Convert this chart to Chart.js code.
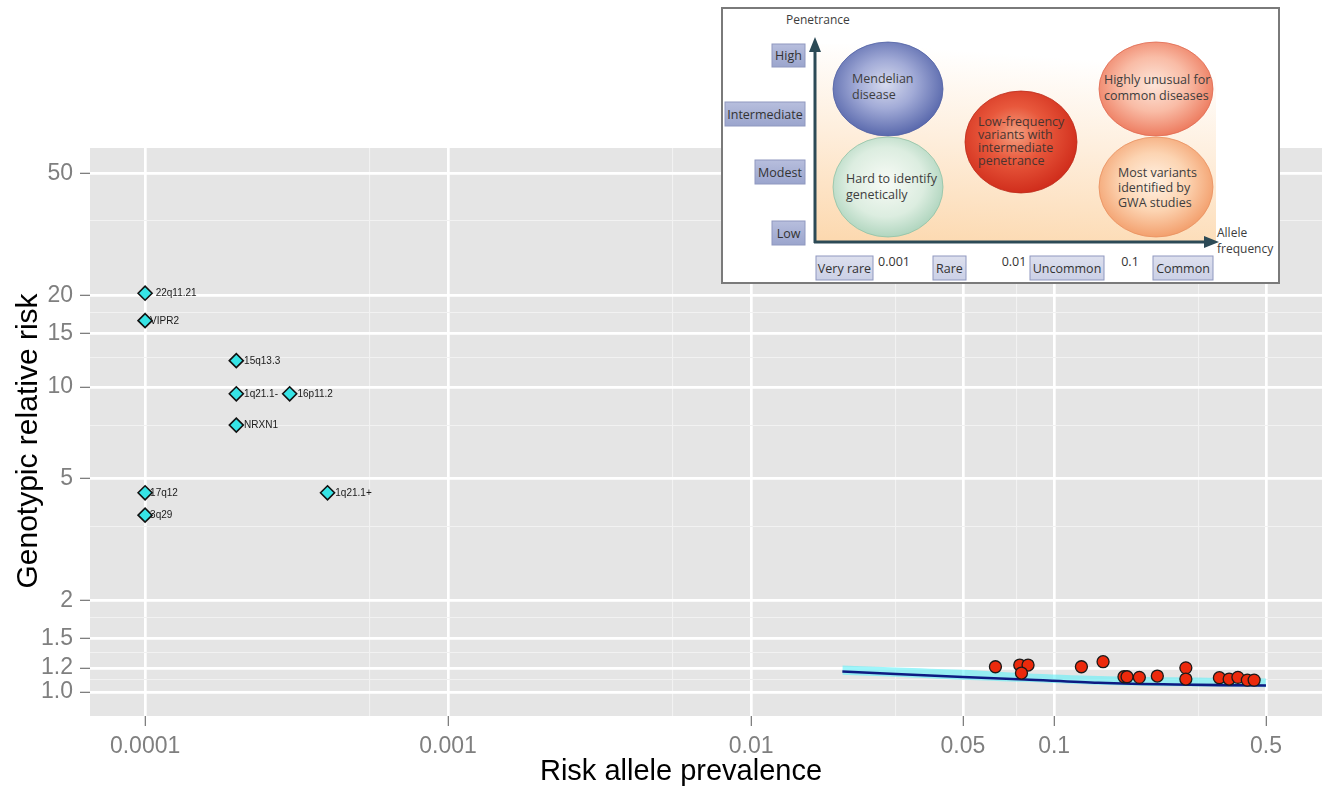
<!DOCTYPE html>
<html><head><meta charset="utf-8">
<script src="https://cdn.jsdelivr.net/npm/chart.js@4.4.1/dist/chart.umd.min.js"></script>
<style>
html,body{margin:0;padding:0;background:#fff;}
#wrap{position:relative;width:1326px;height:786px;overflow:hidden;}
#c{position:absolute;left:0;top:0;}
#inset{position:absolute;left:0;top:0;pointer-events:none;}
#inset text{font-family:"Open Sans","Noto Sans",sans-serif;}
</style></head><body>
<div id="wrap">
<canvas id="c" width="1326" height="786"></canvas>
<svg id="inset" width="1326" height="786" viewBox="0 0 1326 786" xmlns="http://www.w3.org/2000/svg">
<defs>
  <linearGradient id="bgG" x1="0" y1="1" x2="0.15" y2="0">
    <stop offset="0" stop-color="#fcd8ae"/>
    <stop offset="0.55" stop-color="#feeedc"/>
    <stop offset="1" stop-color="#ffffff"/>
  </linearGradient>
  <radialGradient id="gBlue" cx="0.48" cy="0.45" r="0.58">
    <stop offset="0" stop-color="#d6daee"/><stop offset="0.45" stop-color="#a2abd7"/><stop offset="1" stop-color="#5262a8"/>
  </radialGradient>
  <radialGradient id="gGreen" cx="0.48" cy="0.45" r="0.58">
    <stop offset="0" stop-color="#f8fbf6"/><stop offset="0.6" stop-color="#dcede0"/><stop offset="1" stop-color="#aad2ba"/>
  </radialGradient>
  <radialGradient id="gRed" cx="0.45" cy="0.42" r="0.6">
    <stop offset="0" stop-color="#f4a080"/><stop offset="0.45" stop-color="#e8583c"/><stop offset="1" stop-color="#cf2b1a"/>
  </radialGradient>
  <radialGradient id="gSalmon" cx="0.48" cy="0.45" r="0.58">
    <stop offset="0" stop-color="#fde6da"/><stop offset="0.5" stop-color="#f9bca6"/><stop offset="1" stop-color="#ec7558"/>
  </radialGradient>
  <radialGradient id="gPeach" cx="0.48" cy="0.45" r="0.58">
    <stop offset="0" stop-color="#fff2e4"/><stop offset="0.5" stop-color="#fcd4b2"/><stop offset="1" stop-color="#f29a66"/>
  </radialGradient>
  <linearGradient id="boxL" x1="0" y1="0" x2="0" y2="1">
    <stop offset="0" stop-color="#b7bedd"/><stop offset="1" stop-color="#9ba5cd"/>
  </linearGradient>
  <linearGradient id="boxB" x1="0" y1="0" x2="0" y2="1">
    <stop offset="0" stop-color="#dde0ee"/><stop offset="1" stop-color="#cbd0e6"/>
  </linearGradient>
</defs>
<rect x="722" y="8" width="557" height="275" fill="#ffffff" stroke="#7a7a7a" stroke-width="2"/>
<rect x="815" y="44" width="401" height="198" fill="url(#bgG)"/>

<ellipse cx="888" cy="89" rx="55" ry="47" fill="url(#gBlue)" stroke="#5262a5" stroke-width="0.8"/>
<ellipse cx="888" cy="187" rx="55" ry="50" fill="url(#gGreen)" stroke="#90c2a6" stroke-width="0.8"/>
<ellipse cx="1021" cy="142" rx="56" ry="51" fill="url(#gRed)" stroke="#bd2c1a" stroke-width="0.8"/>
<ellipse cx="1156" cy="89" rx="57" ry="47" fill="url(#gSalmon)" stroke="#e06a50" stroke-width="0.8"/>
<ellipse cx="1156" cy="187" rx="57" ry="50" fill="url(#gPeach)" stroke="#e89060" stroke-width="0.8"/>

<g font-size="12.5" fill="#3d3d3d">
  <text x="852" y="83">Mendelian</text>
  <text x="852" y="99">disease</text>
  <text x="846" y="183">Hard to identify</text>
  <text x="846" y="199">genetically</text>
  <text x="1104" y="84">Highly unusual for</text>
  <text x="1104" y="100">common diseases</text>
  <text x="1118" y="176.5">Most variants</text>
  <text x="1118" y="191.5">identified by</text>
  <text x="1118" y="206.5">GWA studies</text>
</g>
<g font-size="12.5" fill="#4a3430">
  <text x="978" y="126">Low-frequency</text>
  <text x="978" y="139">variants with</text>
  <text x="978" y="152">intermediate</text>
  <text x="978" y="165">penetrance</text>
</g>

<g stroke="#2c4a56" stroke-width="3" fill="none">
  <line x1="815" y1="243" x2="815" y2="50"/>
  <line x1="814" y1="242" x2="1206" y2="242"/>
</g>
<polygon points="815,37 809,52 821,52" fill="#2c4a56"/>
<polygon points="1219,242 1204,236 1204,248" fill="#2c4a56"/>

<g font-size="12" fill="#3d3d3d">
  <text x="786" y="24">Penetrance</text>
  <text x="1217" y="237">Allele</text>
  <text x="1217" y="253">frequency</text>
</g>

<g stroke="#8f98bf" stroke-width="1">
  <rect x="772" y="44" width="33" height="23" fill="url(#boxL)"/>
  <rect x="725" y="102" width="80" height="24" fill="url(#boxL)"/>
  <rect x="755" y="160" width="50" height="24" fill="url(#boxL)"/>
  <rect x="772" y="221" width="33" height="24" fill="url(#boxL)"/>
  <rect x="816" y="256" width="57" height="24" fill="url(#boxB)"/>
  <rect x="933" y="256" width="33" height="24" fill="url(#boxB)"/>
  <rect x="1030" y="256" width="74" height="24" fill="url(#boxB)"/>
  <rect x="1153" y="256" width="60" height="24" fill="url(#boxB)"/>
</g>
<g font-size="12.5" fill="#333" text-anchor="middle">
  <text x="788.5" y="60">High</text>
  <text x="765" y="118.5">Intermediate</text>
  <text x="780" y="176.5">Modest</text>
  <text x="788.5" y="237.5">Low</text>
  <text x="844.5" y="272.5">Very rare</text>
  <text x="949.5" y="272.5">Rare</text>
  <text x="1067" y="272.5">Uncommon</text>
  <text x="1183" y="272.5">Common</text>
  <text x="894" y="266">0.001</text>
  <text x="1014" y="266">0.01</text>
  <text x="1130" y="266">0.1</text>
</g>
</svg>
</div>
<script>
// ---- data ----
const cnvNames = ['  22q11.21', 'VIPR2', ' 15q13.3', ' 1q21.1-', ' 16p11.2', ' NRXN1', '17q12', ' 1q21.1+', '3q29'];
const cnvPrevalence = [0.0001, 0.0001, 0.0002, 0.0002, 0.0003, 0.0002, 0.0001, 0.0004, 0.0001];
const cnvRisk = [20.3, 16.5, 12.2, 9.5, 9.5, 7.5, 4.5, 4.5, 3.8];

const gwasPrevalence = [0.064, 0.077, 0.082, 0.078, 0.123, 0.145, 0.170, 0.174, 0.191, 0.219, 0.272, 0.272, 0.351, 0.378, 0.404, 0.434, 0.457];
const gwasRisk = [1.21, 1.226, 1.226, 1.154, 1.21, 1.257, 1.122, 1.122, 1.117, 1.128, 1.20, 1.103, 1.114, 1.103, 1.117, 1.094, 1.094];

const curvePrevalence = [0.02, 0.03, 0.05, 0.08, 0.14, 0.25, 0.5];
const curveRisk = [1.167, 1.146, 1.12, 1.099, 1.072, 1.058, 1.05];
const bandUpper = [1.222, 1.204, 1.182, 1.152, 1.128, 1.117, 1.108];
const bandLower = [1.14, 1.123, 1.098, 1.08, 1.056, 1.044, 1.037];

const xTicks = [0.0001, 0.001, 0.01, 0.05, 0.1, 0.5];
const xTickLabels = ['0.0001', '0.001', '0.01', '0.05', '0.1', '0.5'];
const xMinor = [0.00055, 0.0055, 0.03, 0.075, 0.3];
const yTicks = [1.0, 1.2, 1.5, 2, 5, 10, 15, 20, 50];
const yTickLabels = ['1.0', '1.2', '1.5', '2', '5', '10', '15', '20', '50'];
const yMinor = [1.1, 1.35, 1.75, 3.5, 7.5, 12.5, 17.5, 35];

const xTitle = 'Risk allele prevalence';
const yTitle = 'Genotypic relative risk';

// ---- helpers ----
const pts = (xs, ys) => xs.map((x, i) => ({x: x, y: ys[i]}));
const FONT = '"Liberation Sans", Arial, sans-serif';

function tickSetup(major, minor) {
  return function (scale) {
    scale.ticks = major.concat(minor).map(v => ({value: v}));
  };
}
const isMajor = (list, v) => list.some(m => Math.abs(m - v) / m < 1e-9);

const panelBg = {
  id: 'panelBg',
  beforeDraw(chart) {
    const {ctx, chartArea: a} = chart;
    ctx.save();
    ctx.fillStyle = '#e5e5e5';
    ctx.fillRect(a.left, a.top, a.right - a.left, a.bottom - a.top);
    ctx.restore();
  }
};

const cnvLabelPlugin = {
  id: 'cnvLabels',
  afterDatasetsDraw(chart) {
    const meta = chart.getDatasetMeta(2);
    const ctx = chart.ctx;
    ctx.save();
    ctx.font = '10px ' + FONT;
    ctx.fillStyle = '#1a1a1a';
    ctx.textBaseline = 'middle';
    ctx.textAlign = 'left';
    meta.data.forEach((el, i) => ctx.fillText(cnvNames[i], el.x + 5, el.y + 0.5));
    ctx.restore();
  }
};

const axisTitles = {
  id: 'axisTitles',
  afterDraw(chart) {
    const ctx = chart.ctx;
    ctx.save();
    ctx.fillStyle = '#000';
    ctx.textAlign = 'center';
    ctx.textBaseline = 'alphabetic';
    ctx.font = '29px ' + FONT;
    ctx.fillText(xTitle, 681, 780);
    ctx.translate(37, 441);
    ctx.rotate(-Math.PI / 2);
    ctx.font = '30px ' + FONT;
    ctx.fillText(yTitle, 0, 0);
    ctx.restore();
  }
};

new Chart(document.getElementById('c'), {
  type: 'scatter',
  data: {
    datasets: [
      { // 0 band lower
        data: pts(curvePrevalence, bandLower), showLine: true, borderWidth: 0,
        borderColor: 'rgba(0,0,0,0)', pointRadius: 0, fill: false, order: 5, tension: 0.3
      },
      { // 1 band upper
        data: pts(curvePrevalence, bandUpper), showLine: true, borderWidth: 0,
        borderColor: 'rgba(0,0,0,0)', pointRadius: 0, fill: '-1',
        backgroundColor: 'rgba(95,240,248,0.6)', order: 4, tension: 0.3
      },
      { // 2 CNV diamonds
        data: pts(cnvPrevalence, cnvRisk), pointStyle: 'rectRot', pointRadius: 7,
        backgroundColor: '#36e4e6', borderColor: '#111', borderWidth: 1.6, order: 1
      },
      { // 3 curve
        data: pts(curvePrevalence, curveRisk), showLine: true, pointRadius: 0,
        borderColor: '#0d1a82', borderWidth: 2.6, fill: false, order: 3, tension: 0.3
      },
      { // 4 GWAS points
        data: pts(gwasPrevalence, gwasRisk), pointStyle: 'circle', pointRadius: 6,
        backgroundColor: '#ec2a0c', borderColor: '#1a1a1a', borderWidth: 1.3, order: 0
      }
    ]
  },
  options: {
    responsive: false,
    animation: false,
    events: [],
    devicePixelRatio: 1,
    layout: {autoPadding: false, padding: {top: 148, right: 4, left: 0, bottom: 0}},
    plugins: {legend: {display: false}, tooltip: {enabled: false}, title: {display: false}},
    scales: {
      x: {
        type: 'logarithmic',
        bounds: 'data',
        min: 6.58e-5,
        max: 0.7654,
        afterBuildTicks: tickSetup(xTicks, xMinor),
        afterFit(s) { s.height = 70; },
        border: {display: false},
        grid: {
          color: c => isMajor(xTicks, c.tick.value) ? '#ffffff' : '#f2f2f2',
          lineWidth: c => isMajor(xTicks, c.tick.value) ? 2.7 : 1.1,
          tickColor: c => isMajor(xTicks, c.tick.value) ? '#7f7f7f' : 'rgba(0,0,0,0)',
          tickWidth: 1.3,
          tickLength: 10
        },
        ticks: {
          autoSkip: false, maxRotation: 0, minRotation: 0, padding: 7,
          color: '#7f7f7f', font: {family: FONT, size: 23},
          callback: v => { const i = xTicks.findIndex(m => Math.abs(m - v) / m < 1e-9); return i >= 0 ? xTickLabels[i] : ''; }
        }
      },
      y: {
        type: 'logarithmic',
        bounds: 'data',
        min: 0.8344,
        max: 60.75,
        afterBuildTicks: tickSetup(yTicks, yMinor),
        afterFit(s) { s.width = 90; },
        border: {display: false},
        grid: {
          color: c => isMajor(yTicks, c.tick.value) ? '#ffffff' : '#f2f2f2',
          lineWidth: c => isMajor(yTicks, c.tick.value) ? 2.7 : 1.1,
          tickColor: c => isMajor(yTicks, c.tick.value) ? '#7f7f7f' : 'rgba(0,0,0,0)',
          tickWidth: 1.3,
          tickLength: 10
        },
        ticks: {
          autoSkip: false, padding: 7,
          color: '#7f7f7f', font: {family: FONT, size: 23},
          callback: v => { const i = yTicks.findIndex(m => Math.abs(m - v) / m < 1e-9); return i >= 0 ? yTickLabels[i] : ''; }
        }
      }
    }
  },
  plugins: [panelBg, cnvLabelPlugin, axisTitles]
});
</script>
</body></html>
